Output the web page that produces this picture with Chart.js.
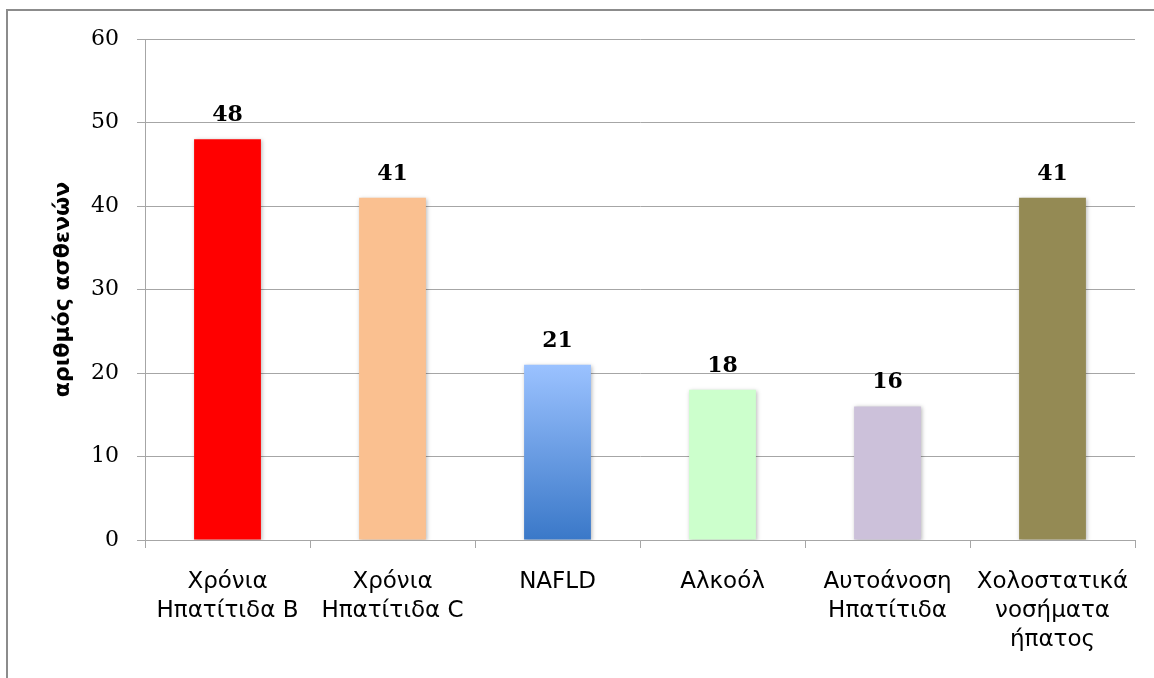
<!DOCTYPE html>
<html>
<head>
<meta charset="utf-8">
<script src="https://cdn.jsdelivr.net/npm/chart.js@4/dist/chart.umd.min.js"></script>
<style>
    html, body { margin: 0; padding: 0; background: #fff; overflow: hidden; }
    #frame {
        position: absolute; left: 6px; top: 9px; width: 1200px; height: 720px;
        border-top: 2px solid #8c8c8c; border-left: 2px solid #8c8c8c;
    }
    #wrap { position: absolute; left: 0; top: 0; width: 1154px; height: 678px; }
</style>
</head>
<body>
<div id="frame"></div>
<div id="wrap"><canvas id="chart"></canvas></div>
<script>
var categories = [
    ['Χρόνια', 'Ηπατίτιδα B'],
    ['Χρόνια', 'Ηπατίτιδα C'],
    'NAFLD',
    'Αλκοόλ',
    ['Αυτοάνοση', 'Ηπατίτιδα'],
    ['Χολοστατικά', 'νοσήματα', 'ήπατος']
];
var patients = [48, 41, 21, 18, 16, 41];
var barColors = ['#ff0000', '#fac090', 'gradient', '#ccffcc', '#ccc1da', '#948a54'];
var yTicks = [0, 10, 20, 30, 40, 50, 60];
var yTitle = 'αριθμός ασθενών';

var gridColor = '#a6a6a6';

// fill for each bar, NAFLD one is a vertical blue gradient
function barFill(ctx) {
    var c = barColors[ctx.dataIndex];
    if (c !== 'gradient') {
        return c;
    }
    var chart = ctx.chart, y = chart.scales.y;
    if (!chart.chartArea || !y) {
        return '#6b9be0';
    }
    var g = chart.ctx.createLinearGradient(0, y.getPixelForValue(patients[ctx.dataIndex]), 0, y.getPixelForValue(0));
    g.addColorStop(0, '#9bc2ff');
    g.addColorStop(1, '#3a78c8');
    return g;
}

var barShadow = {
    id: 'barShadow',
    beforeDatasetsDraw: function (chart) {
        var c = chart.ctx;
        c.save();
        c.shadowColor = 'rgba(0,0,0,0.28)';
        c.shadowBlur = 4;
        c.shadowOffsetX = 1;
        c.shadowOffsetY = 1;
    },
    afterDatasetsDraw: function (chart) {
        chart.ctx.restore();
    }
};

// value above each bar
var valueLabels = {
    id: 'valueLabels',
    afterDatasetsDraw: function (chart) {
        var c = chart.ctx, meta = chart.getDatasetMeta(0);
        c.save();
        c.font = 'bold 22px "DejaVu Serif"';
        c.fillStyle = '#000';
        c.textAlign = 'center';
        c.textBaseline = 'alphabetic';
        meta.data.forEach(function (bar, i) {
            c.fillText(String(patients[i]), bar.x, bar.y - 18);
        });
        c.restore();
    }
};

new Chart(document.getElementById('chart'), {
    type: 'bar',
    data: {
        labels: categories,
        datasets: [{
            data: patients,
            backgroundColor: barFill,
            borderWidth: 0,
            barPercentage: 0.405,
            categoryPercentage: 1
        }]
    },
    options: {
        responsive: true,
        maintainAspectRatio: false,
        animation: false,
        events: [],
        layout: { padding: { left: 50, right: 19, top: 39, bottom: 0 } },
        plugins: {
            legend: { display: false },
            tooltip: { enabled: false }
        },
        scales: {
            x: {
                grid: {
                    display: true,
                    drawOnChartArea: false,
                    drawTicks: true,
                    tickLength: 8,
                    color: gridColor
                },
                border: { color: gridColor },
                ticks: {
                    color: '#000',
                    padding: 19,
                    maxRotation: 0,
                    autoSkip: false,
                    font: { family: '"DejaVu Sans"', size: 23, lineHeight: 1.27 }
                },
                afterFit: function (s) { s.height = 138; }
            },
            y: {
                min: 0,
                max: 60,
                afterBuildTicks: function (s) {
                    s.ticks = yTicks.map(function (v) { return { value: v }; });
                },
                grid: { color: gridColor, tickLength: 8 },
                border: { color: gridColor },
                ticks: {
                    color: '#000',
                    padding: 18,
                    font: { family: '"DejaVu Serif"', size: 22 }
                },
                title: {
                    display: true,
                    text: yTitle,
                    color: '#000',
                    padding: 0,
                    font: { family: '"DejaVu Sans"', size: 22, weight: 'bold' }
                },
                afterFit: function (s) { s.width = 95; }
            }
        }
    },
    plugins: [barShadow, valueLabels]
});
</script>
</body>
</html>
